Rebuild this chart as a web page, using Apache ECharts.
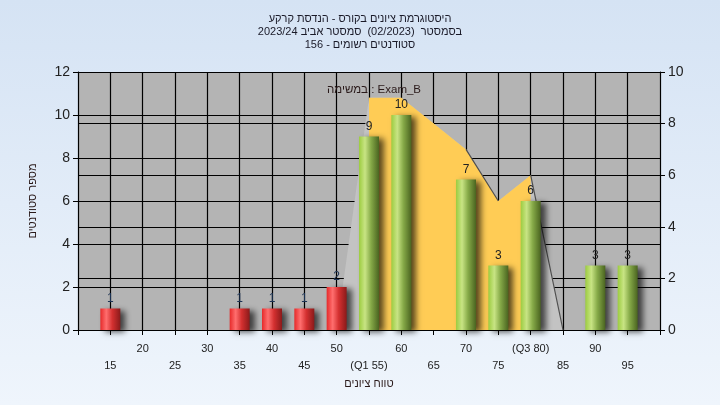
<!DOCTYPE html>
<html>
<head>
<meta charset="utf-8">
<script src="https://cdn.jsdelivr.net/npm/echarts@6/dist/echarts.min.js"></script>
<style>html,body{margin:0;padding:0;}#c{width:720px;height:405px;}</style>
</head>
<body>
<div id="c"></div>
<script>
// ---- data ----
const grades = [15,20,25,30,35,40,45,50,55,60,65,70,75,80,85,90,95];
const counts = [1,0,0,0,1,1,1,2,9,10,0,7,3,6,0,3,3];
const tickLabels = ['15','20','25','30','35','40','45','50','(Q1 55)','60','65','70','75','(Q3 80)','85','90','95'];
const curveGrades = [50,55,60,65,70,75,80,85];
const curveValues = [0,9,9,8,7,5,6,0];
const iqrGrades = [55,60,65,70,75,80];
const iqrValues = [9,9,8,7,5,6];
const passGrade = 55;
const titleLines = ['היסטוגרמת ציונים בקורס - הנדסת קרקע','בסמסטר  (02/2023)  סמסטר אביב 2023/24','סטודנטים רשומים - 156'];
const legendText = 'במשימה : Exam_B';
const xName = 'טווח ציונים';
const yName = 'מספר סטודנטים';

const FONT = 'Liberation Sans, Arial, DejaVu Sans, sans-serif';
const redGrad = new echarts.graphic.LinearGradient(0,0,1,0,[
  {offset:0,color:'#e62a2a'},{offset:0.3,color:'#ff6e6e'},{offset:0.6,color:'#d43030'},{offset:1,color:'#8a1a1a'}]);
const greenGrad = new echarts.graphic.LinearGradient(0,0,1,0,[
  {offset:0,color:'#9ccc40'},{offset:0.3,color:'#c8e484'},{offset:0.6,color:'#86aa48'},{offset:1,color:'#4a6420'}]);

const barData = [];
grades.forEach((g,i)=>{
  if(counts[i] > 0){
    barData.push({value:[g,counts[i]], itemStyle:{color: g < passGrade ? redGrad : greenGrad},
      label:{color: g < passGrade ? '#1c3354' : '#222'}});
  }
});
const labelMap = {};
grades.forEach((g,i)=>{ labelMap[g] = tickLabels[i]; });

// dark outline only on the falling segments that show one in the reference
const strokeData = [];
curveGrades.forEach((g,i)=>{
  if(i > 0 && curveValues[i] < curveValues[i-1] && (g === 75 || g === 85)){
    strokeData.push([curveGrades[i-1], curveValues[i-1]]);
    strokeData.push([g, curveValues[i]]);
    strokeData.push('-');
  }
});

const chart = echarts.init(document.getElementById('c'));
chart.setOption({
  animation:false,
  backgroundColor: new echarts.graphic.LinearGradient(0,0,0,1,[{offset:0,color:'#d5e3f4'},{offset:1,color:'#eff5fc'}]),
  title:[
    {text: titleLines.join('\n'), left:'center', top:7,
     textStyle:{fontFamily:FONT,fontSize:11,fontWeight:'normal',color:'#1a1a28',lineHeight:13}},
    {text: legendText, left:369, top:79, textAlign:'center',
     textStyle:{fontFamily:FONT,fontSize:11.5,fontWeight:'normal',color:'#2a1a1a'}}
  ],
  grid:{left:78,right:60,top:72,bottom:75,backgroundColor:'#b4b4b4',show:true,borderWidth:0},
  xAxis:{type:'value',min:10,max:100,interval:5,
    name: xName, nameLocation:'middle', nameGap:45,
    nameTextStyle:{fontFamily:FONT,fontSize:11,color:'#2a1a1a'},
    axisLine:{show:true,onZero:false,lineStyle:{color:'#000',width:1}},
    axisTick:{show:true,length:5,lineStyle:{color:'#000'}},
    splitLine:{show:true,lineStyle:{color:'#000',width:1.2}},
    axisLabel:{fontFamily:FONT,fontSize:11,color:'#222',margin:10,lineHeight:17,
      showMinLabel:true,showMaxLabel:true,
      formatter:function(v){
        const lab = labelMap[v];
        if(lab===undefined) return '';
        const idx = grades.indexOf(v);
        return idx % 2 === 0 ? '\n' + lab : lab;
      }}
  },
  yAxis:[
    {type:'value',min:0,max:12,interval:2,position:'left',
     name: yName, nameLocation:'middle', nameGap:40, nameRotate:90,
     nameTextStyle:{fontFamily:FONT,fontSize:11,color:'#2a1a1a'},
     axisLine:{show:true,lineStyle:{color:'#000'}},
     axisTick:{show:true,length:5,lineStyle:{color:'#000'}},
     splitLine:{show:true,lineStyle:{color:'#000',width:1.2}},
     axisLabel:{fontFamily:FONT,fontSize:14,color:'#222',margin:8}},
    {type:'value',min:0,max:10,interval:2,position:'right',
     axisLine:{show:true,lineStyle:{color:'#000'}},
     axisTick:{show:true,length:5,lineStyle:{color:'#000'}},
     splitLine:{show:true,lineStyle:{color:'#000',width:1.2}},
     axisLabel:{fontFamily:FONT,fontSize:14,color:'#222',margin:8}}
  ],
  series:[
    {type:'line',yAxisIndex:1,z:1,symbol:'none',silent:true,
     data: curveGrades.map((g,i)=>[g,curveValues[i]]),
     lineStyle:{width:0},
     areaStyle:{color:'#c3c3c3',opacity:1}},
    {type:'line',yAxisIndex:1,z:1.5,symbol:'none',silent:true,
     data: iqrGrades.map((g,i)=>[g,iqrValues[i]]),
     lineStyle:{width:0},
     areaStyle:{color:'#ffcc55',opacity:1}},
    {type:'line',yAxisIndex:1,z:1.8,symbol:'none',silent:true,connectNulls:false,
     data: strokeData, lineStyle:{color:'#505050',width:1.2}},
    {type:'bar',yAxisIndex:0,z:3,barWidth:20,data:barData,
     itemStyle:{shadowColor:'rgba(0,0,0,0.65)',shadowBlur:6,shadowOffsetX:5,shadowOffsetY:2},
     label:{show:true,position:'top',distance:4,fontFamily:FONT,fontSize:12}}
  ]
});
</script>
</body>
</html>
